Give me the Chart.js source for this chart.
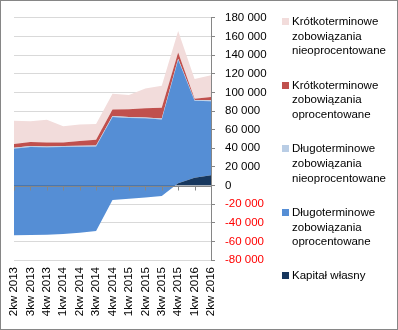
<!DOCTYPE html>
<html>
<head>
<meta charset="utf-8">
<script src="https://cdn.jsdelivr.net/npm/chart.js@4"></script>
<style>
    body { margin: 0; background: #fff; }
    #wrap {
        position: relative; width: 398px; height: 330px;
        border: 1px solid #868686; box-sizing: border-box; background: #fff;
        font-family: "Liberation Sans", Arial, sans-serif;
    }
    #chart { position: absolute; left: 0; top: 0; }
    .legend-item { position: absolute; left: 281px; font-size: 11.5px; line-height: 14.7px; color: #000; }
    .legend-item .box { position: absolute; left: 0; top: 4px; width: 7px; height: 7px; }
    .legend-item .txt { position: absolute; left: 10px; top: 0; white-space: pre; }
</style>
</head>
<body>
<div id="wrap">
    <canvas id="chart" width="396" height="328"></canvas>
    <div id="legend"></div>
</div>
<script>
const quarters = ['2kw 2013', '3kw 2013', '4kw 2013', '1kw 2014', '2kw 2014', '3kw 2014', '4kw 2014',
    '1kw 2015', '2kw 2015', '3kw 2015', '4kw 2015', '1kw 2016', '2kw 2016'];

// stacking order bottom -> top (as in the Excel source)
const kapitalWlasny = [-53500, -53200, -52800, -52100, -50700, -48900, -15600, -14200, -12800, -11400, 2500, 8400, 10900];
const dlugOproc = [93100, 94500, 93800, 93400, 92400, 90900, 89300, 86700, 84900, 82400, 132600, 82500, 79600];
const dlugNieoproc = [1000, 1000, 1000, 1000, 1000, 1000, 1000, 1000, 1000, 1000, 1000, 1000, 1000];
const krotOproc = [3900, 4300, 4300, 4000, 5000, 6100, 6800, 8500, 10000, 11400, 6800, 1400, 3600];
const krotNieoproc = [25100, 22300, 24400, 17300, 17700, 17000, 17100, 15200, 21200, 23700, 23000, 21200, 23400];

const seriesNames = [
    'Kapitał własny',
    'Długoterminowe\nzobowiązania\noprocentowane',
    'Długoterminowe\nzobowiązania\nnieoprocentowane',
    'Krótkoterminowe\nzobowiązania\noprocentowane',
    'Krótkoterminowe\nzobowiązania\nnieoprocentowane'
];
const seriesColors = ['#17375E', '#558ED5', '#B9CDE5', '#C0504D', '#F2DCDB'];
const seriesData = [kapitalWlasny, dlugOproc, dlugNieoproc, krotOproc, krotNieoproc];

const yTicksMin = -80000, yTicksMax = 180000, yStep = 20000;

function formatThousands(v) {
    const s = String(Math.abs(v)).replace(/\B(?=(\d{3})+(?!\d))/g, ' ');
    return (v < 0 ? '-' : '') + s;
}

const datasets = seriesData.map((data, idx) => ({
    label: seriesNames[idx].replace(/\n/g, ' '),
    data,
    backgroundColor: seriesColors[idx],
    borderWidth: 0,
    pointRadius: 0,
    tension: 0,
    // Excel draws later series over earlier ones, so the negative part of
    // equity is hidden behind the long-term liabilities area
    fill: idx === 0
        ? { target: 'origin', above: seriesColors[0], below: 'rgba(0,0,0,0)' }
        : '-1'
}));

// category axis crossing at zero, drawn over the areas
const zeroAxisPlugin = {
    id: 'zeroAxis',
    afterDatasetsDraw(chart) {
        const { ctx, chartArea, scales } = chart;
        const y0 = Math.round(scales.y.getPixelForValue(0)) + 0.5;
        ctx.save();
        ctx.strokeStyle = '#868686';
        ctx.lineWidth = 1;
        ctx.beginPath();
        ctx.moveTo(chartArea.left, y0);
        ctx.lineTo(chartArea.right, y0);
        quarters.forEach((q, i) => {
            const x = Math.round(scales.x.getPixelForValue(i)) + 0.5;
            ctx.moveTo(x, y0);
            ctx.lineTo(x, y0 + 4);
        });
        ctx.stroke();
        ctx.restore();
    }
};

const font = { family: '"Liberation Sans", Arial, sans-serif', size: 11.5 };

new Chart(document.getElementById('chart').getContext('2d'), {
    type: 'line',
    data: { labels: quarters, datasets },
    options: {
        responsive: false,
        animation: false,
        layout: { padding: { left: 13, top: 14, right: 0, bottom: 0 } },
        plugins: {
            legend: { display: false },
            tooltip: { enabled: false },
            filler: { propagate: false }
        },
        scales: {
            x: {
                offset: false,
                grid: { display: false, drawTicks: false },
                border: { display: false },
                ticks: {
                    autoSkip: false, minRotation: 90, maxRotation: 90,
                    padding: 7, color: '#000', font
                },
                afterFit(scale) { scale.height = 69; }
            },
            y: {
                position: 'right',
                stacked: 'single',
                min: yTicksMin,
                max: yTicksMax,
                grid: { color: '#D9D9D9', tickColor: '#868686', tickLength: 4, drawTicks: true },
                border: { color: '#868686' },
                ticks: {
                    stepSize: yStep,
                    padding: 10,
                    font,
                    color: c => (c.tick && c.tick.value < 0 ? '#FF0000' : '#000'),
                    callback: v => formatThousands(v)
                },
                afterFit(scale) { scale.width = 186; }
            }
        }
    },
    plugins: [zeroAxisPlugin]
});

// legend on the right, top entry is the top of the stack
const legendEl = document.getElementById('legend');
for (let k = 0; k < seriesNames.length; k++) {
    const idx = seriesNames.length - 1 - k;
    const item = document.createElement('div');
    item.className = 'legend-item';
    item.style.top = (13 + k * 63.6) + 'px';
    const box = document.createElement('span');
    box.className = 'box';
    box.style.background = seriesColors[idx];
    const txt = document.createElement('span');
    txt.className = 'txt';
    txt.textContent = seriesNames[idx];
    item.appendChild(box);
    item.appendChild(txt);
    legendEl.appendChild(item);
}
</script>
</body>
</html>
